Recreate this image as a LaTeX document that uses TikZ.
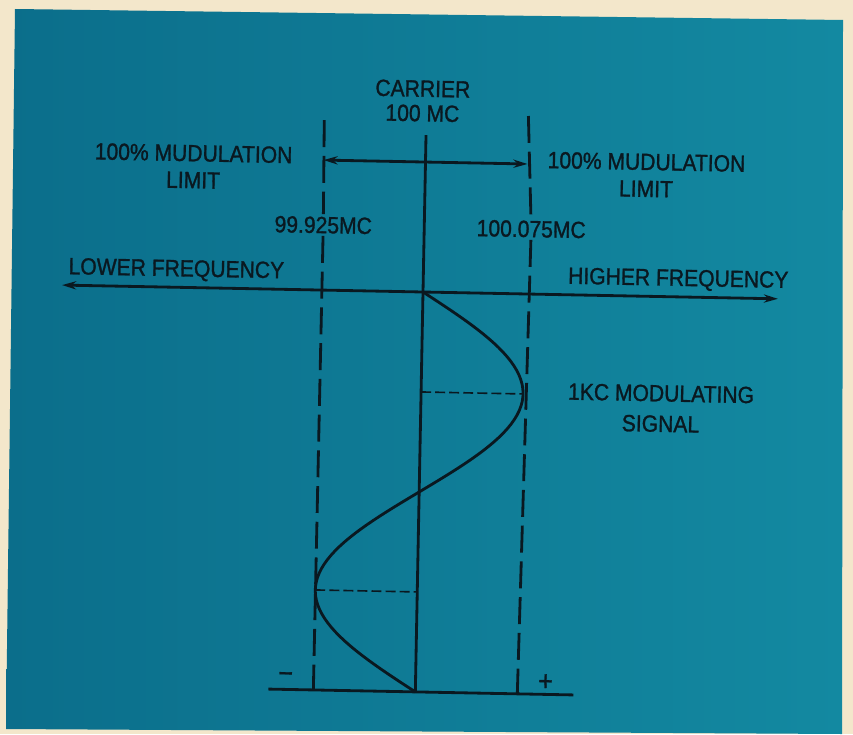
\documentclass[tikz,border=0pt]{standalone}
\usepackage{fontspec}
\setmainfont{Liberation Sans}[FakeStretch=0.9,FakeBold=1.2]
\usetikzlibrary{arrows.meta}
\definecolor{cream}{HTML}{F3E7CB}
\definecolor{tealL}{HTML}{0B6E8B}
\definecolor{tealR}{HTML}{1389A1}
\definecolor{ink}{HTML}{0A1820}

\begin{document}
\begin{tikzpicture}[x=.03cm,y=-.03cm,>={Stealth[length=12pt,width=7pt]},
  font=\fontsize{20}{23}\selectfont,
  lbl/.style={inner sep=0pt,align=center,text=ink},
  main/.style={line width=2.4pt},
  limitline/.style={line width=2.4pt,dash pattern=on 23pt off 7.5pt},
  guide/.style={line width=1.4pt,dash pattern=on 8.5pt off 3.5pt}]
\fill[cream] (0,0) rectangle (853,734);
\useasboundingbox (0,0) rectangle (853,734);
\shade[left color=tealL,right color=tealR] (15,9)--(843,20)--(842,734)--(6,729)--cycle;
\begin{scope}[shift={(423,292)},rotate=-1.1,transform shape,color=ink]
% points of the frame
\coordinate (o) at (0,0);
\coordinate (ctop) at (0,-157);
\coordinate (cbot) at (0,400);
\coordinate (dLtop) at (-102,-170);
\coordinate (dLbot) at (-102,400);
\coordinate (dRtop) at (102,-178);
\coordinate (dRbot) at (102,400);
\coordinate (aL) at (-102,-130);
\coordinate (aR) at (102,-130);
\coordinate (axL) at (-361,0);
\coordinate (axR) at (355,0);
\coordinate (bL) at (-147,400);
\coordinate (bR) at (158,400);
\coordinate (pk) at (102,100);
\coordinate (pkc) at (0,100);
\coordinate (tr) at (-102,300);
\coordinate (trc) at (0,300);
% texts
\node[lbl,font=\fontsize{20}{21}\selectfont] (carrier) at (-4,-191) {CARRIER\\100 MC};
\node[lbl] (limL) at (-232,-121) {100\% MUDULATION\\LIMIT};
\node[lbl] (limR) at (221,-121) {100\% MUDULATION\\LIMIT};
\node[lbl,inner sep=2pt] (fL) at (-101,-65) {99.925MC};
\node[lbl,inner sep=2pt] (fR) at (107,-65) {100.075MC};
\node[lbl] (lower) at (-247,-17) {LOWER FREQUENCY};
\node[lbl] (higher) at (255,-17) {HIGHER FREQUENCY};
\node[lbl,font=\fontsize{20}{26}\selectfont] (signal) at (240,112) {1KC MODULATING\\SIGNAL};
\node[lbl,font=\fontsize{24}{26}\selectfont] (minus) at (-130,388) {−};
\node[lbl,font=\fontsize{24}{26}\selectfont] (plus) at (130,388) {+};
% lines
\draw[main] (ctop) -- (cbot);
\draw[limitline] (dLtop) -- (fL) -- (dLbot);
\draw[limitline] (dRtop) -- (fR) -- (dRbot);
\draw[main,<->] (aL) -- (aR);
\draw[main,<->] (axL) -- (axR);
\draw[main] (bL) -- (bR);
\draw[guide] (pkc) -- (pk);
\draw[guide] (tr) -- (trc);
\draw[main] plot[domain=0:400,samples=90] ({102*sin(0.9*\x)},\x);
\end{scope}
\end{tikzpicture}
\end{document}
